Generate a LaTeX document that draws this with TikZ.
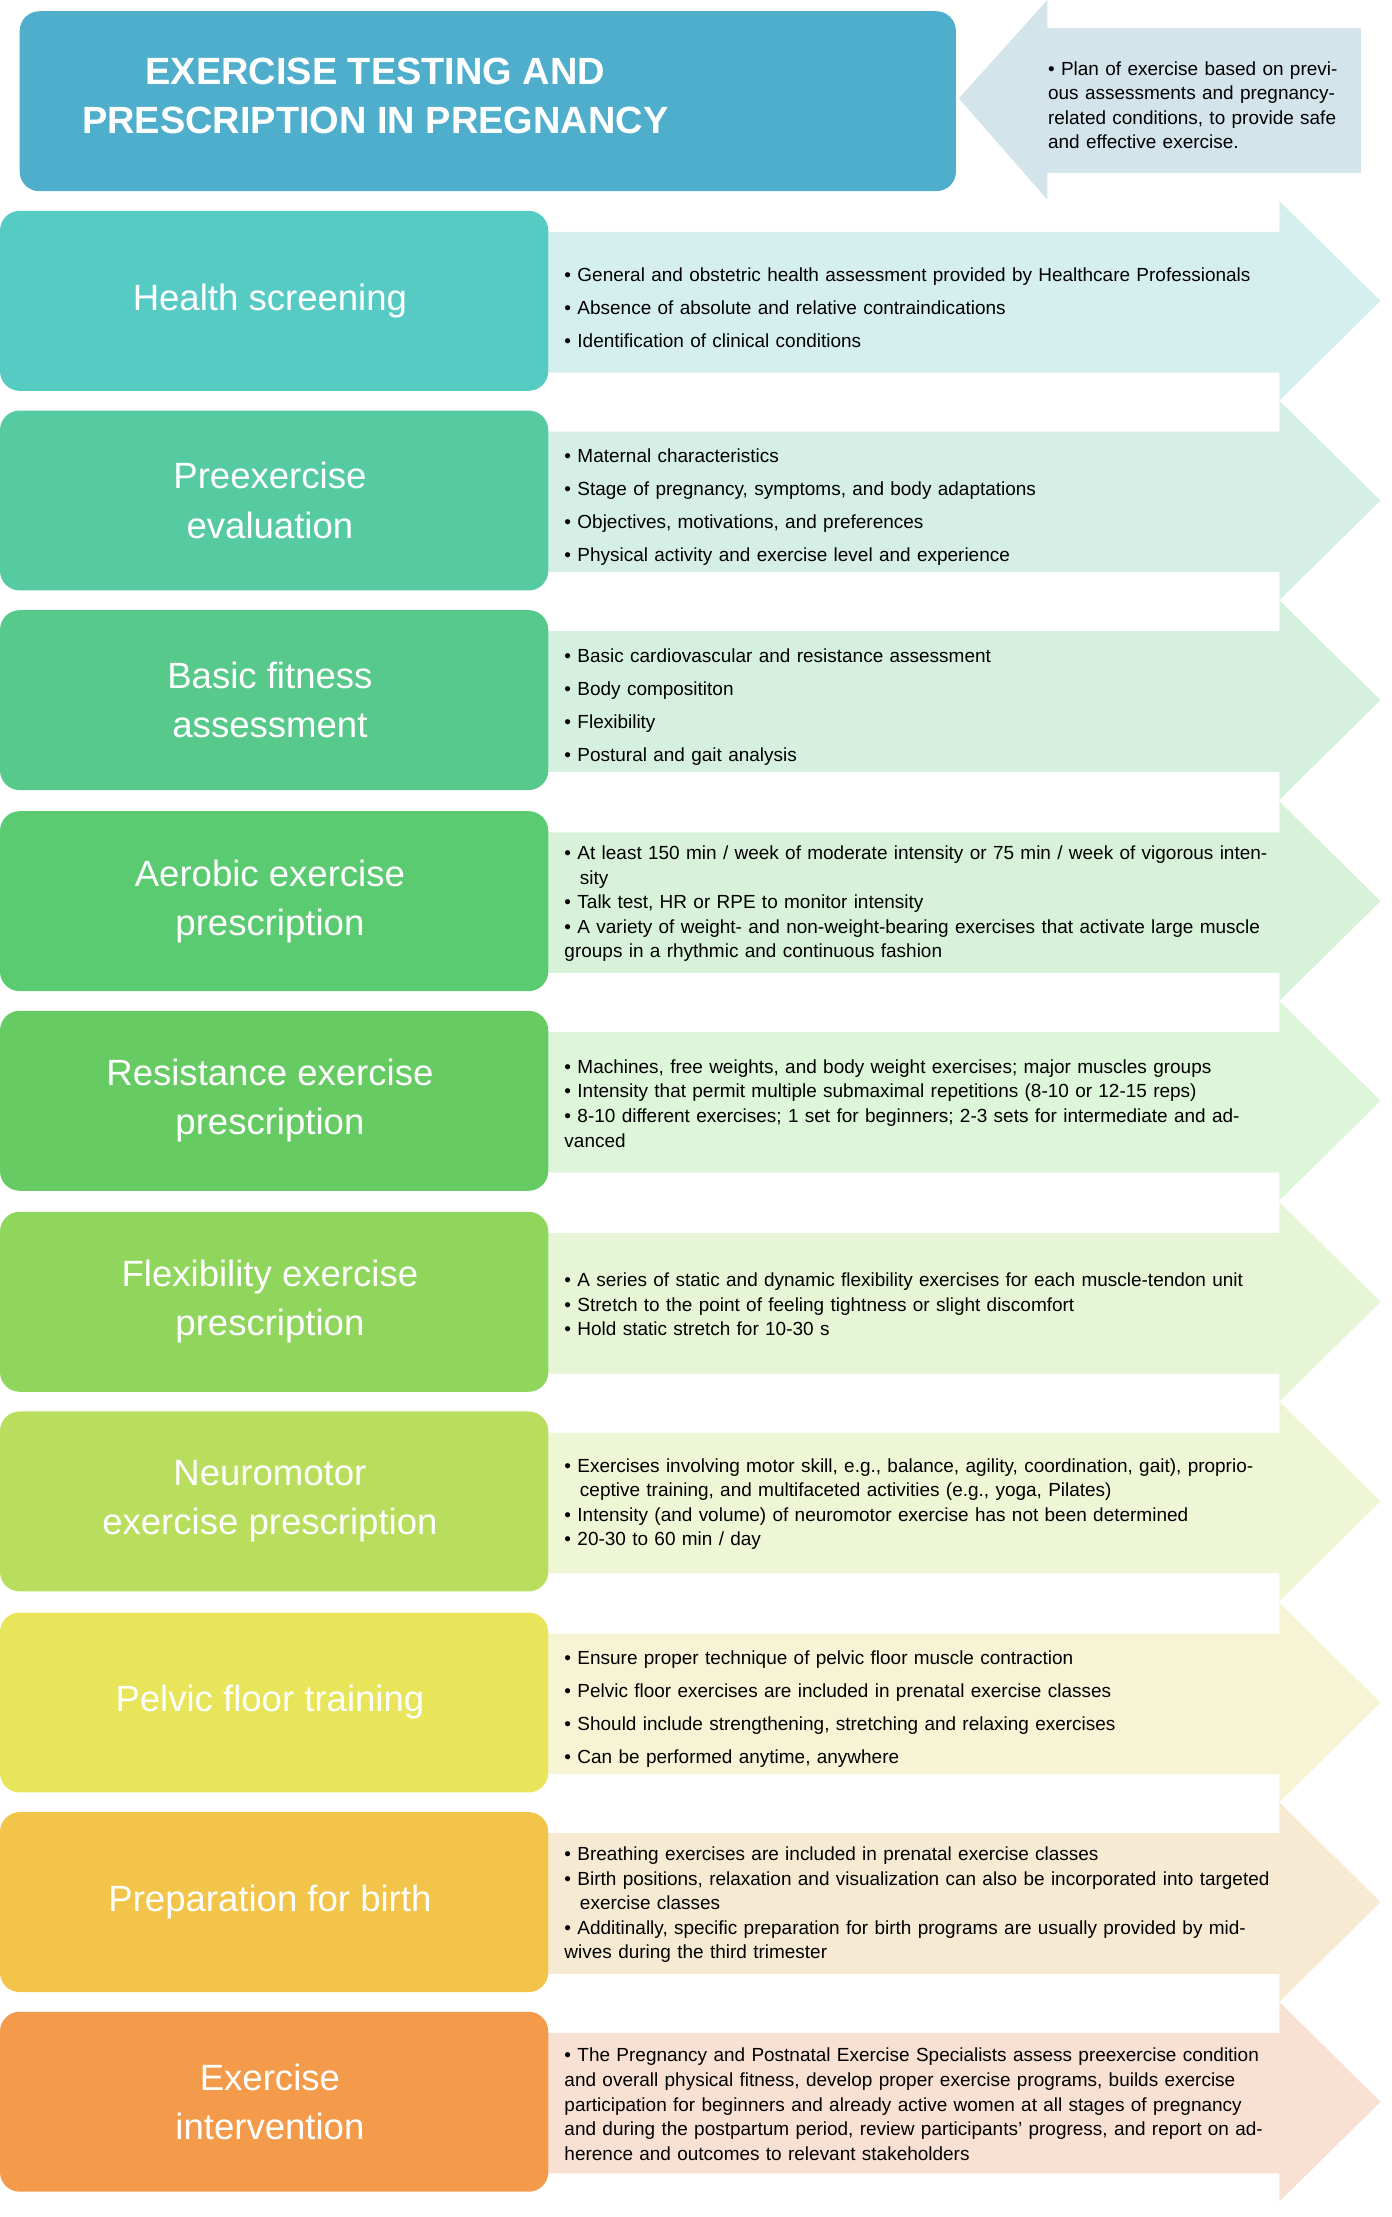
\documentclass[tikz,border=0pt]{standalone}
\usepackage{fontspec}
\setmainfont{Liberation Sans}
\begin{document}
\begin{tikzpicture}[x=1pt,y=-1pt,
  lbox/.style={fill=#1,draw=none,rounded corners=14pt},
  lbl/.style={text=white,font=\fontsize{26}{35}\selectfont,align=center},
  txt/.style={anchor=west,text width=505pt,align=left,font=\fontsize{13.5}{#1}\selectfont}]
\useasboundingbox (0,0) rectangle (990,1577);
\definecolor{tb}{HTML}{4FAECB}\definecolor{tp}{HTML}{D3E4EA}
\newcommand{\bi}{\par\hangindent=11pt\hangafter=1\noindent\textbullet\ }
% top
\fill[tp] (682,70) -- (745,0) -- (745,20) -- (968,20) -- (968,123) -- (745,123) -- (745,142) -- cycle;
\fill[lbox=tb] (14,8) rectangle (680,136);
\node[text=white,font=\bfseries\fontsize{27}{35}\selectfont,align=center] (title) at (267,68) {EXERCISE TESTING AND\\PRESCRIPTION IN PREGNANCY};
\node[anchor=west,text width=212pt,align=left,font=\fontsize{13.5}{17.5}\selectfont] (plan) at (742,71) {\bi Plan of exercise based on previous assessments and pregnancy-related conditions, to provide safe and effective exercise.};
\newcommand{\myrow}[7]{%
 \definecolor{c#1}{HTML}{#3}\definecolor{p#1}{HTML}{#4}
 \pgfmathsetmacro{\tp}{#2}\pgfmathsetmacro{\bt}{#2+128}\pgfmathsetmacro{\cy}{#2+64}
 \fill[p#1] (390,\tp+15) -- (910,\tp+15) -- (910,\tp-7) -- (982,\cy) -- (910,\bt+7) -- (910,\bt-13) -- (390,\bt-13) -- cycle;
 \fill[lbox=c#1] (0,\tp) rectangle (390,\bt);
 \node[lbl] (l#1) at (192,\cy) {#5};
 \node[txt=#6] (t#1) at (398,\cy-2) {#7};
}
\myrow{1}{150}{55CBC4}{D5EFEE}{Health screening}{23.5}{\bi General and obstetric health assessment provided by Healthcare Professionals\bi Absence of absolute and relative contraindications\bi Identification of clinical conditions}
\myrow{2}{292}{56CBA2}{D5EFE6}{Preexercise\\evaluation}{23.5}{\bi Maternal characteristics\bi Stage of pregnancy, symptoms, and body adaptations\bi Objectives, motivations, and preferences\bi Physical activity and exercise level and experience}
\myrow{3}{434}{57C98A}{D6F0E0}{Basic fitness\\assessment}{23.5}{\bi Basic cardiovascular and resistance assessment\bi Body composititon\bi Flexibility\bi Postural and gait analysis}
\myrow{4}{577}{5ACB70}{D8F2DA}{Aerobic exercise\\prescription}{17.5}{\bi At least 150 min / week of moderate intensity or 75 min / week of vigorous intensity\bi Talk test, HR or RPE to monitor intensity\bi A variety of weight- and non-weight-bearing exercises that activate large muscle groups in a rhythmic and continuous fashion}
\myrow{5}{719}{66CB62}{DDF5D8}{Resistance exercise\\prescription}{17.5}{\bi Machines, free weights, and body weight exercises; major muscles groups\bi Intensity that permit multiple submaximal repetitions (8-10 or 12-15 reps)\bi 8-10 different exercises; 1 set for beginners; 2-3 sets for intermediate and advanced}
\myrow{6}{862}{90D55C}{E6F5D6}{Flexibility exercise\\prescription}{17.5}{\bi A series of static and dynamic flexibility exercises for each muscle-tendon unit\bi Stretch to the point of feeling tightness or slight discomfort\bi Hold static stretch for 10-30 s}
\myrow{7}{1004}{B9DE5E}{EEF6D5}{Neuromotor\\exercise prescription}{17.5}{\bi Exercises involving motor skill, e.g., balance, agility, coordination, gait), proprioceptive training, and multifaceted activities (e.g., yoga, Pilates)\bi Intensity (and volume) of neuromotor exercise has not been determined\bi 20-30 to 60 min / day}
\myrow{8}{1147}{E8E55A}{F6F4D5}{Pelvic floor training}{23.5}{\bi Ensure proper technique of pelvic floor muscle contraction\bi Pelvic floor exercises are included in prenatal exercise classes\bi Should include strengthening, stretching and relaxing exercises\bi Can be performed anytime, anywhere}
\myrow{9}{1289}{F2C44A}{F6EBD2}{Preparation for birth}{17.5}{\bi Breathing exercises are included in prenatal exercise classes\bi Birth positions, relaxation and visualization can also be incorporated into targeted exercise classes\bi Additinally, specific preparation for birth programs are usually provided by midwives during the third trimester}
\myrow{10}{1431}{F39B4A}{F8E0D3}{Exercise\\intervention}{17.5}{\bi The Pregnancy and Postnatal Exercise Specialists assess preexercise condition and overall physical fitness, develop proper exercise programs, builds exercise participation for beginners and already active women at all stages of pregnancy and during the postpartum period, review participants' progress, and report on adherence and outcomes to relevant stakeholders}
\end{tikzpicture}
\end{document}
